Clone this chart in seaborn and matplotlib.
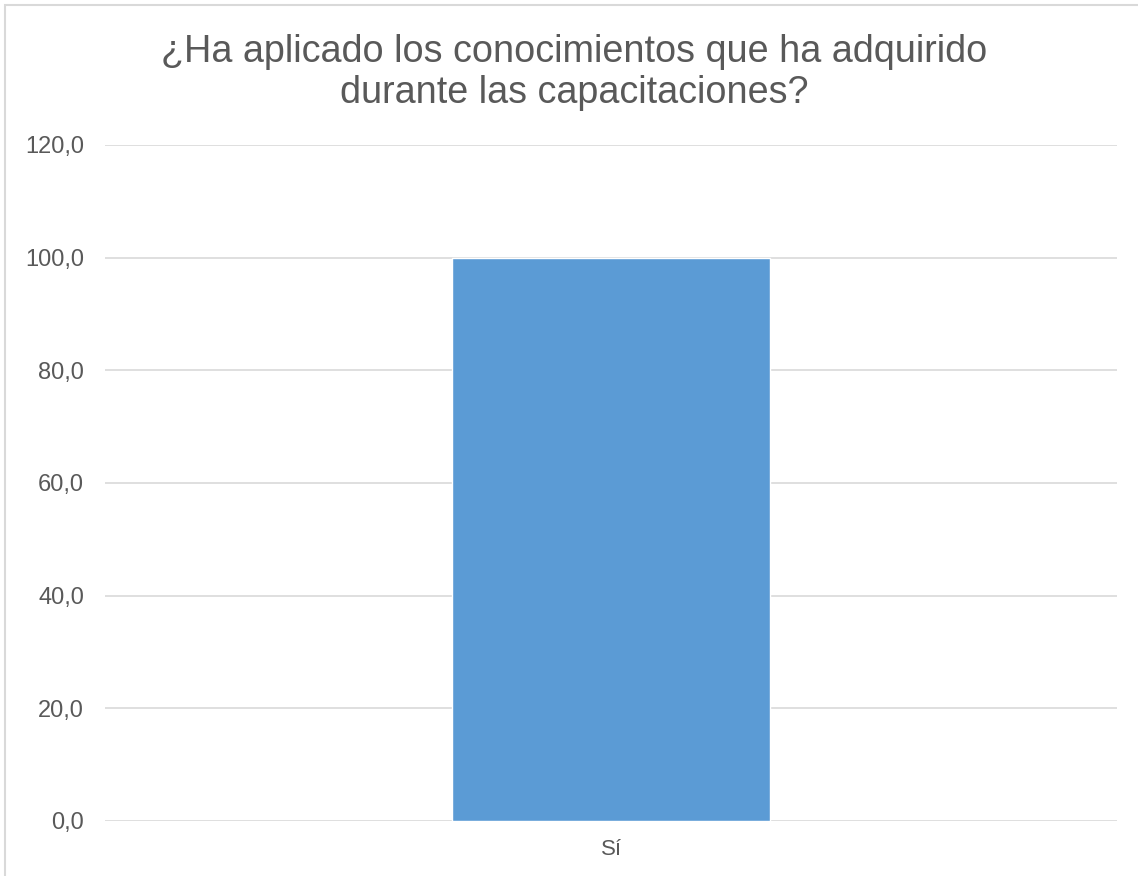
import matplotlib
matplotlib.use("Agg")
import matplotlib.pyplot as plt
import seaborn as sns
import pandas as pd
from matplotlib.patches import Rectangle
from matplotlib.ticker import FuncFormatter

categories = ["Sí"]
values = [100.0]
title = "¿Ha aplicado los conocimientos que ha adquirido\ndurante las capacitaciones?"

sns.set_theme(style="white")
plt.rcParams["font.family"] = ["Liberation Sans", "DejaVu Sans"]

text_color = "#595959"
grid_color = "#D9D9D9"
bar_color = "#5B9BD5"

W, H = 1138, 876
fig = plt.figure(figsize=(W / 100, H / 100), dpi=100)
ax = fig.add_axes([105 / W, 55 / H, (1117 - 105) / W, (821 - 145) / H])

df = pd.DataFrame({"cat": categories, "val": values})
sns.barplot(data=df, x="cat", y="val", color=bar_color, width=0.314,
            saturation=1, ax=ax, zorder=3)

ax.set_ylim(0, 120)
ax.set_xlim(-0.5, 0.5)
ax.set_yticks(range(0, 121, 20))
ax.yaxis.set_major_formatter(FuncFormatter(lambda v, p: f"{v:.1f}".replace(".", ",")))
ax.grid(axis="y", color=grid_color, linewidth=1.2, zorder=0)
ax.grid(axis="x", visible=False)
for s in ax.spines.values():
    s.set_visible(False)
ax.set_xlabel("")
ax.set_ylabel("")
ax.tick_params(axis="y", labelsize=17, colors=text_color, length=0, pad=15)
ax.tick_params(axis="x", labelsize=16, colors=text_color, length=0, pad=13)

# two-line title; the last line's baseline sits 103 px from the top
fig.text(574 / W, 1 - 103 / H, title, ha="center", va="baseline",
         fontsize=27.2, color=text_color, linespacing=1.17,
         multialignment="center")

# chart frame
fig.patches.append(Rectangle((5 / W, -0.05), 1.2, 1 - 5 / H + 0.05,
                             transform=fig.transFigure, fill=False,
                             edgecolor=grid_color, linewidth=1.5))

fig.savefig("out.png", dpi=100, facecolor="white")
